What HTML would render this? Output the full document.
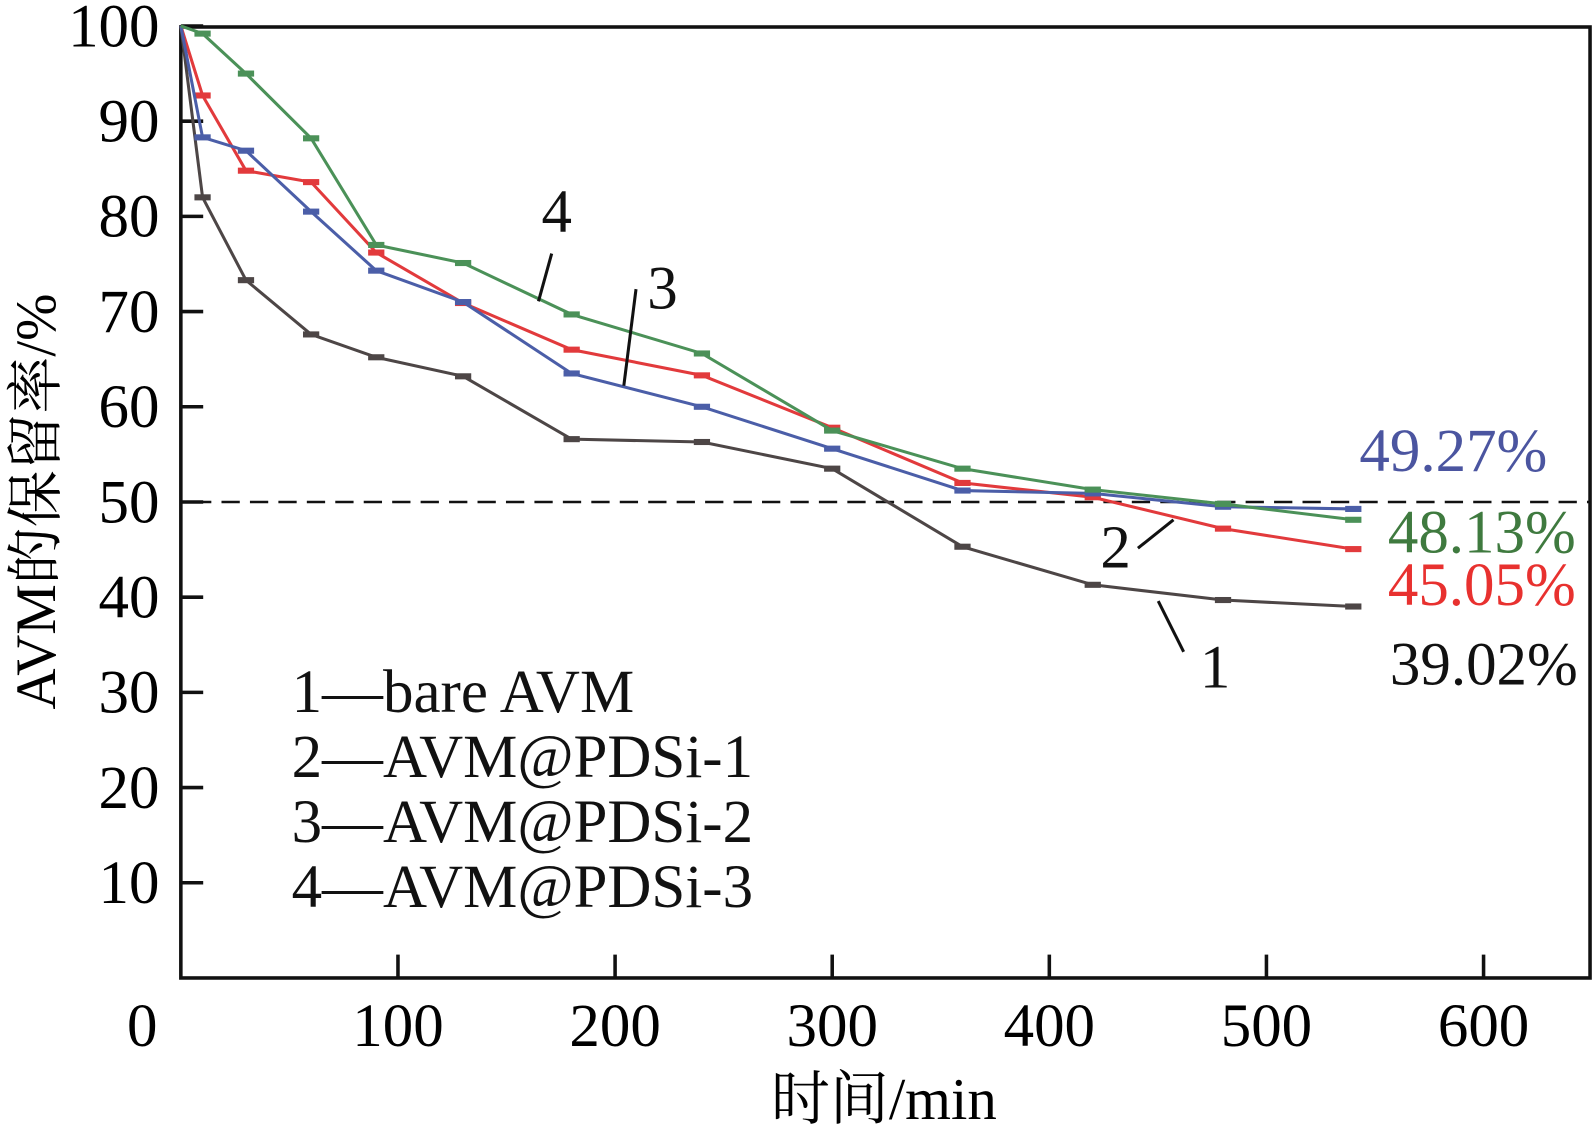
<!DOCTYPE html>
<html><head><meta charset="utf-8"><style>
body{margin:0;background:#fff}
svg{display:block}
text{font-family:"Liberation Serif","Noto Serif CJK SC",serif}
</style></head><body>
<svg id="chart" width="1593" height="1139" viewBox="0 0 1593 1139" xmlns="http://www.w3.org/2000/svg">
<g transform="translate(0,1.6) scale(1.016)">
<g id="axes"></g><g id="series"></g><g id="annot"></g>
</g>
</svg>
<script>
const times=[0,10,30,60,90,130,180,240,300,360,420,480,540];
const s1=[100,82,73.3,67.6,65.2,63.2,56.6,56.3,53.5,45.3,41.3,39.7,39.02];
const s2=[100,92.7,84.8,83.6,76.2,70.9,66,63.3,57.8,52,50.5,47.2,45.05];
const s3=[100,88.3,86.9,80.5,74.3,71,63.5,60,55.6,51.2,50.9,49.5,49.27];
const s4=[100,99.2,95,88.2,77,75.1,69.7,65.6,57.5,53.5,51.3,49.8,48.13];
const xTicks=[0,100,200,300,400,500,600];
const yTicks=[10,20,30,40,50,60,70,80,90,100];
const seriesNames=["bare-avm","avm-pdsi-1","avm-pdsi-2","avm-pdsi-3"];
const NS="http://www.w3.org/2000/svg";
const X=v=>178+v*2.137, Y=v=>961-v*9.37;
function mk(tag,attrs,parent,txt){const e=document.createElementNS(NS,tag);for(const k in attrs)e.setAttribute(k,attrs[k]);if(txt!==undefined)e.textContent=txt;parent.appendChild(e);return e;}
const axes=document.getElementById('axes'),ser=document.getElementById('series'),an=document.getElementById('annot');
const frame=mk('rect',{x:178,y:25,width:1387,height:936,fill:'none',stroke:'#111','stroke-width':3.5},axes);

xTicks.forEach(t=>{
 if(t>0){const l=mk('line',{x1:X(t),x2:X(t),y1:961,y2:938,stroke:'#111','stroke-width':3.5},axes);
 }
 const tx=mk('text',{x:t===0?140:X(t),y:1028,'font-size':60,'text-anchor':'middle'},axes,String(t));
 
});
yTicks.forEach(t=>{
 const l=mk('line',{x1:178,x2:200,y1:Y(t),y2:Y(t),stroke:'#111','stroke-width':3.5},axes);
 
 const tx=mk('text',{x:157,y:Y(t)+20,'font-size':60,'text-anchor':'end'},axes,String(t));
 
});
const xt=mk('text',{x:870,y:1100,'font-size':58,'text-anchor':'middle'},axes,'时间/min');

const yt=mk('text',{x:0,y:0,'font-size':56,'text-anchor':'middle',transform:'translate(54,492) rotate(-90)'},axes,'AVM的保留率/%');

const ref=mk('line',{x1:190,x2:1565,y1:Y(50),y2:Y(50),stroke:'#111','stroke-width':2.5,'stroke-dasharray':'18,10'},axes);

const data=[s1,s2,s3,s4],cols=['#4d4646','#e23a3c','#4b5ea8','#4b9158'];
data.forEach((s,i)=>{
 const p=mk('polyline',{points:s.map((v,j)=>X(times[j])+','+Y(v)).join(' '),fill:'none',stroke:cols[i],'stroke-width':3},ser);
 
 s.forEach((v,j)=>{if(j===0)return;
  const c=mk('rect',{x:X(times[j])-8,y:Y(v)-3,width:16,height:6,fill:cols[i]},ser);
  });
});
const T=(x,y,txt,name,fill,size)=>{const e=mk('text',{x:x,y:y,'font-size':size||60,fill:fill||'#111'},an,txt);};
const L=(x1,y1,x2,y2,name)=>{const e=mk('line',{x1,y1,x2,y2,stroke:'#111','stroke-width':3},an);};
T(1338,462,'49.27%','end-label-3','#4b55a0');
T(1366,542,'48.13%','end-label-4','#3f7a3f');
T(1366,594,'45.05%','end-label-2','#e8312f');
T(1368,672,'39.02%','end-label-1','#111');
T(533,227,'4','callout-4');L(543,248,530,295,'callout-line-4');
T(637,302,'3','callout-3');L(626,283,614,378,'callout-line-3');
T(1083,557,'2','callout-2');L(1120,538,1155,510,'callout-line-2');
T(1181,675,'1','callout-1');L(1165,640,1140,590,'callout-line-1');
['1—bare AVM','2—AVM@PDSi-1','3—AVM@PDSi-2','4—AVM@PDSi-3'].forEach((t,i)=>T(287,699+i*64,t,'legend-entry-'+(i+1)));
</script>
</body></html>
